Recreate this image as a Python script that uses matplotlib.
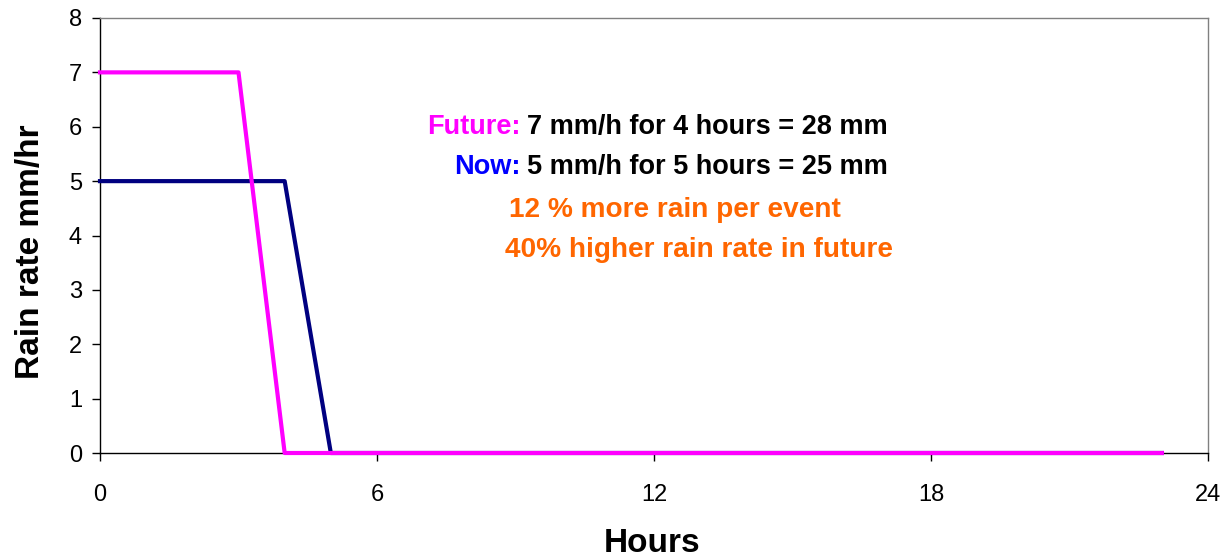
import matplotlib.pyplot as plt
import numpy as np

plt.rcParams['font.family'] = ['Liberation Sans', 'DejaVu Sans']

# hourly rain rates (mm/hr), hours 0..23
hours = np.arange(0, 24)
now_rate = [5, 5, 5, 5, 5] + [0] * 19
future_rate = [7, 7, 7, 7] + [0] * 20

x_ticks = [0, 6, 12, 18, 24]
y_ticks = [0, 1, 2, 3, 4, 5, 6, 7, 8]

W, H = 1223, 560
fig = plt.figure(figsize=(W / 100, H / 100), dpi=100)
ax = fig.add_axes([100 / W, 1 - 453 / H, (1208 - 100) / W, (453 - 18) / H])

ax.plot(hours, now_rate, color='#000080', lw=3, clip_on=False, zorder=3)
ax.plot(hours, future_rate, color='#FF00FF', lw=3, clip_on=False, zorder=4)

ax.set_xlim(0, 24)
ax.set_ylim(0, 8)
ax.set_xticks(x_ticks)
ax.set_yticks(y_ticks)
ax.tick_params(labelsize=17, direction='out', length=6, width=1)
ax.tick_params(axis='x', pad=16)
ax.tick_params(axis='y', pad=7)

for s in ['top', 'right']:
    ax.spines[s].set_color('#808080')
    ax.spines[s].set_linewidth(1)
for s in ['left', 'bottom']:
    ax.spines[s].set_color('black')
    ax.spines[s].set_linewidth(1)

# axis titles
fig.text(30 / W, 1 - 252 / H, 'Rain rate mm/hr', rotation=90, ha='center', va='center',
         fontsize=24, fontweight='bold')
fig.text(652 / W, 1 - 543 / H, 'Hours', ha='center', va='center',
         fontsize=24, fontweight='bold')

# annotations
fs = 19.5
fig.text(521 / W, 1 - 127 / H, 'Future:', ha='right', va='center', fontsize=fs,
         fontweight='bold', color='#FF00FF')
fig.text(527 / W, 1 - 127 / H, '7 mm/h for 4 hours = 28 mm', ha='left', va='center',
         fontsize=fs, fontweight='bold', color='black')
fig.text(521 / W, 1 - 167 / H, 'Now:', ha='right', va='center', fontsize=fs,
         fontweight='bold', color='#0000FF')
fig.text(527 / W, 1 - 167 / H, '5 mm/h for 5 hours = 25 mm', ha='left', va='center',
         fontsize=fs, fontweight='bold', color='black')
fig.text(509 / W, 1 - 210 / H, '12 % more rain per event', ha='left', va='center',
         fontsize=20.2, fontweight='bold', color='#FF6600')
fig.text(505 / W, 1 - 250 / H, '40% higher rain rate in future', ha='left', va='center',
         fontsize=20.2, fontweight='bold', color='#FF6600')

fig.savefig('out.png', dpi=100)
